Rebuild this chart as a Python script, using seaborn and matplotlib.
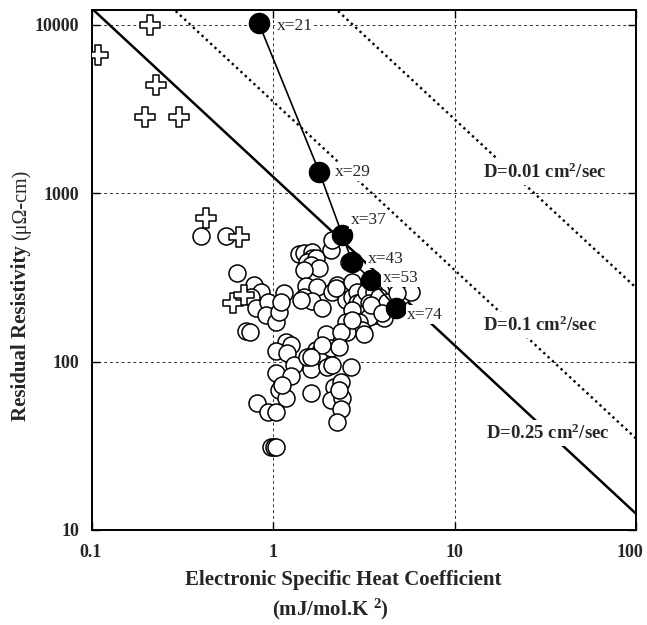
import numpy as np
import pandas as pd
import matplotlib
matplotlib.use("Agg")
import matplotlib.pyplot as plt
import matplotlib.transforms as mtransforms
import seaborn as sns
from matplotlib.ticker import NullLocator

# ---------------- data ----------------
# open circles: electronic specific heat coefficient (mJ/mol.K^2), residual resistivity (uOhm-cm)
circle_gamma = [0.40, 0.55, 0.63, 0.78, 0.85, 0.75, 0.80, 0.94, 0.91, 1.03, 1.07, 1.14, 1.10,
                0.71, 0.74, 1.38, 1.48, 1.63, 1.63, 1.53, 1.72, 1.61, 1.79, 1.48, 2.08, 2.10,
                2.62, 1.51, 1.74, 1.48, 1.63, 1.86, 2.10, 2.25, 2.40, 2.52, 2.72, 2.72, 2.90,
                2.90, 3.06, 3.25, 3.60, 3.38, 3.84, 3.69, 4.09, 3.25, 2.72, 3.38, 4.75, 5.13,
                5.77, 3.84, 4.24, 2.52, 2.98, 3.10, 2.55, 1.95, 2.37, 3.17, 1.72, 1.79, 2.08,
                2.31, 1.57, 1.61, 1.98, 2.10, 2.69, 2.16, 2.37, 1.61, 2.08, 2.40, 2.37, 2.25,
                2.31, 1.17, 1.25, 1.03, 1.19, 1.30, 1.03, 1.25, 1.07, 1.17, 0.81, 0.94, 1.03,
                0.97, 1.01, 1.03, 1.53, 2.22, 1.42, 1.86, 3.46, 2.72, 3.99, 4.82, 1.61, 1.11]
circle_rho = [559, 559, 338, 286, 260, 243, 209, 227, 190, 173, 198, 257, 227,
              153, 151, 438, 444, 450, 414, 392, 414, 376, 361, 352, 462, 530,
              392, 283, 279, 243, 230, 209, 260, 286, 267, 233, 298, 243, 260,
              224, 227, 260, 260, 224, 218, 190, 182, 195, 204, 185, 286, 250,
              260, 243, 227, 173, 173, 155, 151, 145, 149, 145, 118, 113, 121,
              123, 106, 90, 93, 96, 93, 71, 76, 65.5, 59, 61, 52, 44,
              68, 130, 126, 115, 113, 96, 86, 82, 68, 61, 57, 50.5, 50.5,
              31, 31, 31, 107, 275, 233, 126, 218, 177, 195, 257, 106, 73]

# open crosses
cross_gamma = [0.21, 0.108, 0.226, 0.197, 0.303, 0.423, 0.644, 0.60, 0.69]
cross_rho = [10000, 6640, 4400, 2840, 2840, 716, 552, 224, 250]

# filled series
series_labels = ["x=21", "x=29", "x=37", "x=43", "x=53", "x=74"]
series_gamma = [0.83, 1.79, 2.40, 2.72, 3.47, 4.75]
series_rho = [10300, 1342, 567, 392, 307, 209]

# constant-diffusivity lines  rho = C / gamma
D_values = ["0.01", "0.1", "0.25"]
D_const = [27500, 3500, 1250]

x_ticks = [0.1, 1, 10, 100]
x_ticklabels = ["0.1", "1", "10", "100"]
y_ticks = [10, 100, 1000, 10000]
y_ticklabels = ["10", "100", "1000", "10000"]

# ---------------- style ----------------
sns.set_theme(style="ticks")
plt.rcParams['font.family'] = ['Liberation Serif', 'DejaVu Serif']
plt.rcParams['mathtext.fontset'] = 'custom'
plt.rcParams['mathtext.rm'] = 'Liberation Serif'
plt.rcParams['mathtext.bf'] = 'Liberation Serif:bold'
plt.rcParams['mathtext.it'] = 'Liberation Serif:italic'

fig = plt.figure(figsize=(6.47, 6.25), dpi=100)
ax = fig.add_axes([92 / 647, 1 - 530 / 625, (636 - 92) / 647, (530 - 10) / 625])
ax.set_xscale("log")
ax.set_yscale("log")

# diffusivity lines
gline = np.array([0.1, 100.0])
for D, C in zip(D_values, D_const):
    df = pd.DataFrame({"g": gline, "r": C / gline})
    if D == "0.25":
        sns.lineplot(data=df, x="g", y="r", ax=ax, color="black", lw=1.8,
                     sort=False, zorder=2)
    else:
        sns.lineplot(data=df, x="g", y="r", ax=ax, color="black", lw=1.7,
                     linestyle=(0, (1, 1.5)), sort=False, zorder=2)

# open circles
sns.scatterplot(x=circle_gamma, y=circle_rho, ax=ax, marker="o", s=150,
                facecolor="white", edgecolor="black", linewidth=1.1, zorder=3)
# crosses
sns.scatterplot(x=cross_gamma, y=cross_rho, ax=ax, marker="P", s=190,
                facecolor="white", edgecolor="black", linewidth=1.1, zorder=3.5)
# filled series with connecting line
sdf = pd.DataFrame({"g": series_gamma, "r": series_rho})
sns.lineplot(data=sdf, x="g", y="r", ax=ax, color="black", lw=1.2, sort=False, zorder=4)
sns.scatterplot(data=sdf, x="g", y="r", ax=ax, marker="o", s=210,
                color="black", edgecolor="black", linewidth=1, zorder=5)

# series labels
offsets = [(13, -2), (11, 0), (6, 11), (11, 2), (8, 1.5), (8, -5)]
for lab, g, r, off in zip(series_labels, series_gamma, series_rho, offsets):
    ax.annotate(lab, (g, r), xytext=off, textcoords="offset points",
                ha="left", va="center", fontsize=12.5,
                bbox=dict(fc="white", ec="none", pad=1.0), zorder=6)

# D labels
D_label_pos = [(14.3, 1340), (14.3, 165), (14.8, 37.7)]
for D, (gx, ry) in zip(D_values, D_label_pos):
    ax.text(gx, ry, "D=" + D + r" cm$^{\mathbf{2}}$/sec", fontsize=13.5,
            fontweight="bold", ha="left", va="center",
            bbox=dict(fc="white", ec="none", pad=2.5), zorder=6)

# axes
ax.set_xlim(0.1, 100)
ax.set_ylim(10, 12270)
ax.set_xticks(x_ticks)
ax.set_xticklabels(x_ticklabels, fontweight="bold", fontsize=13)
ax.set_yticks(y_ticks)
ax.set_yticklabels(y_ticklabels, fontweight="bold", fontsize=13)
ax.xaxis.set_minor_locator(NullLocator())
ax.yaxis.set_minor_locator(NullLocator())
ax.tick_params(axis="both", which="major", direction="in", length=6, width=1,
               top=True, right=True, color="black")
ax.tick_params(axis="x", pad=10)
ax.tick_params(axis="y", pad=9)
ax.grid(True, which="major", linestyle=(0, (3, 3)), linewidth=0.7, color="#333333")
for sp in ax.spines.values():
    sp.set_linewidth(1.4)
    sp.set_color("black")
ax.set_xlabel("")
ax.set_ylabel("")

# shift outer tick labels like the reference
xl = ax.get_xticklabels()
xl[0].set_transform(xl[0].get_transform() +
                    mtransforms.ScaledTranslation(-2 / 100, 0, fig.dpi_scale_trans))
xl[-1].set_transform(xl[-1].get_transform() +
                     mtransforms.ScaledTranslation(-6 / 100, 0, fig.dpi_scale_trans))

fig.text(343 / 647, 1 - 580 / 625, "Electronic Specific Heat Coefficient",
         ha="center", va="center", fontsize=15, fontweight="bold")
fig.text(330 / 647, 1 - 609 / 625, r"(mJ/mol.K $^{\mathbf{2}}$)",
         ha="center", va="center", fontsize=15, fontweight="bold")

t1 = fig.text(21 / 647, 1 - 421 / 625, "Residual Resistivity",
              ha="left", va="center", rotation=90, rotation_mode="anchor",
              fontsize=15, fontweight="bold")
fig.canvas.draw()
bb = t1.get_window_extent()
fig.text(21 / 647, (bb.y1 + 5) / 625, "(\u03bc\u03a9-cm)",
         ha="left", va="center", rotation=90, rotation_mode="anchor",
         fontsize=14.5, fontweight="normal")

fig.savefig("out.png", dpi=100, facecolor="white")
